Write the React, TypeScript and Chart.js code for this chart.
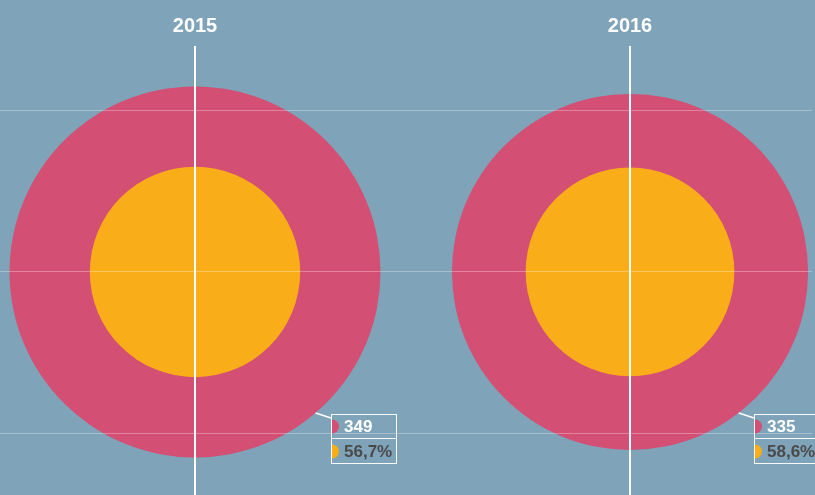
import React, { useEffect, useRef } from "react";
import { Chart, registerables } from "chart.js";

Chart.register(...registerables);

const years = [2015, 2016];
const totals = [349, 335];
const shares = [56.7, 58.6];
const shareLabels = ["56,7%", "58,6%"];
const gridYTicks = [-1, 0, 1];

const BG = "#7fa3b9";
const PINK = "#d44f74";
const YELLOW = "#f9ae19";
const DARK = "#4a4a4a";
const PX_PER_UNIT = 0.5315;
const FONT = "'Liberation Sans', Arial, Helvetica, sans-serif";

const annotationPlugin = {
  id: "bubbleNotes",
  afterDraw(chart: any) {
    const ctx = chart.ctx;
    const xs = chart.scales.x;
    const ys = chart.scales.y;
    years.forEach((yr, i) => {
      const cx = xs.getPixelForValue(yr);
      const cy = ys.getPixelForValue(0);
      const r = totals[i] * PX_PER_UNIT;
      const dy = 141;
      const ex = cx + Math.sqrt(Math.max(0, r * r - dy * dy));
      const ey = cy + dy;
      const L = Math.round(ex + 15);
      const T = Math.round(cy + 142);
      ctx.save();
      ctx.font = `bold 17px ${FONT}`;
      const w1 = ctx.measureText(String(totals[i])).width;
      const w2 = ctx.measureText(shareLabels[i]).width;
      const W = Math.round(Math.max(w1, w2) + 17);
      const H = 49;
      // connector
      ctx.strokeStyle = "#ffffff";
      ctx.lineWidth = 1.5;
      ctx.beginPath();
      ctx.moveTo(ex, ey);
      ctx.lineTo(L, T + 4);
      ctx.stroke();
      // box
      ctx.lineWidth = 1;
      ctx.strokeStyle = "rgba(255,255,255,0.95)";
      ctx.strokeRect(L + 0.5, T + 0.5, W, H);
      ctx.beginPath();
      ctx.moveTo(L, T + 24.5);
      ctx.lineTo(L + W, T + 24.5);
      ctx.stroke();
      // markers
      ctx.fillStyle = PINK;
      ctx.beginPath();
      ctx.arc(L + 1, T + 12.5, 7, -Math.PI / 2, Math.PI / 2);
      ctx.closePath();
      ctx.fill();
      ctx.fillStyle = YELLOW;
      ctx.beginPath();
      ctx.arc(L + 1, T + 37.5, 7, -Math.PI / 2, Math.PI / 2);
      ctx.closePath();
      ctx.fill();
      // text
      ctx.textBaseline = "middle";
      ctx.textAlign = "left";
      ctx.fillStyle = "#ffffff";
      ctx.fillText(String(totals[i]), L + 13, T + 13);
      ctx.fillStyle = DARK;
      ctx.fillText(shareLabels[i], L + 13, T + 38);
      ctx.restore();
    });
  },
};

const bgPlugin = {
  id: "bg",
  beforeDraw(chart: any) {
    const ctx = chart.ctx;
    ctx.save();
    ctx.fillStyle = BG;
    ctx.fillRect(0, 0, chart.width, chart.height);
    ctx.restore();
  },
};

export default function App() {
  const ref = useRef<HTMLCanvasElement>(null);
  useEffect(() => {
    document.body.style.margin = "0";
    const canvas = ref.current!;
    const chart = new Chart(canvas, {
      type: "bubble",
      data: {
        datasets: [
          {
            label: "share",
            data: years.map((yr, i) => ({ x: yr, y: 0, r: totals[i] * PX_PER_UNIT * shares[i] / 100 })),
            backgroundColor: YELLOW,
            borderWidth: 0,
            hoverBorderWidth: 0,
            radius: (c: any) => c.raw.r,
            hoverRadius: 0,
            clip: false,
          } as any,
          {
            label: "total",
            data: years.map((yr, i) => ({ x: yr, y: 0, r: totals[i] * PX_PER_UNIT })),
            backgroundColor: PINK,
            borderWidth: 0,
            hoverBorderWidth: 0,
            radius: (c: any) => c.raw.r,
            hoverRadius: 0,
            clip: false,
          } as any,
        ],
      },
      options: {
        animation: false,
        responsive: false,
        maintainAspectRatio: false,
        events: [],
        layout: { autoPadding: false, padding: { top: 6, left: 0, right: 3, bottom: 0 } },
        plugins: { legend: { display: false }, tooltip: { enabled: false } },
        scales: {
          x: {
            type: "linear",
            position: "top",
            min: 2015 - 195 / 435,
            max: 2016 + 182 / 435,
            border: { display: false },
            grid: { color: "#ffffff", lineWidth: 2, drawTicks: false, z: 1 } as any,
            afterBuildTicks: (s: any) => {
              s.ticks = years.map((v) => ({ value: v }));
            },
            ticks: {
              color: "#ffffff",
              font: { family: FONT, size: 20, weight: "bold" },
              padding: 8,
              maxRotation: 0,
              callback: (v: any) => String(v),
            },
          },
          y: {
            type: "linear",
            min: -1.381,
            max: 1.399,
            border: { display: false },
            grid: { color: "rgba(255,255,255,0.3)", lineWidth: 1, drawTicks: false, z: 1 } as any,
            afterBuildTicks: (s: any) => {
              s.ticks = gridYTicks.map((v) => ({ value: v }));
            },
            ticks: { display: false },
          },
        },
      },
      plugins: [bgPlugin, annotationPlugin],
    } as any);
    return () => chart.destroy();
  }, []);
  return (
    <div style={{ position: "fixed", left: 0, top: 0, width: 815, height: 495, background: BG }}>
      <canvas ref={ref} width={815} height={495} style={{ display: "block" }} />
    </div>
  );
}
